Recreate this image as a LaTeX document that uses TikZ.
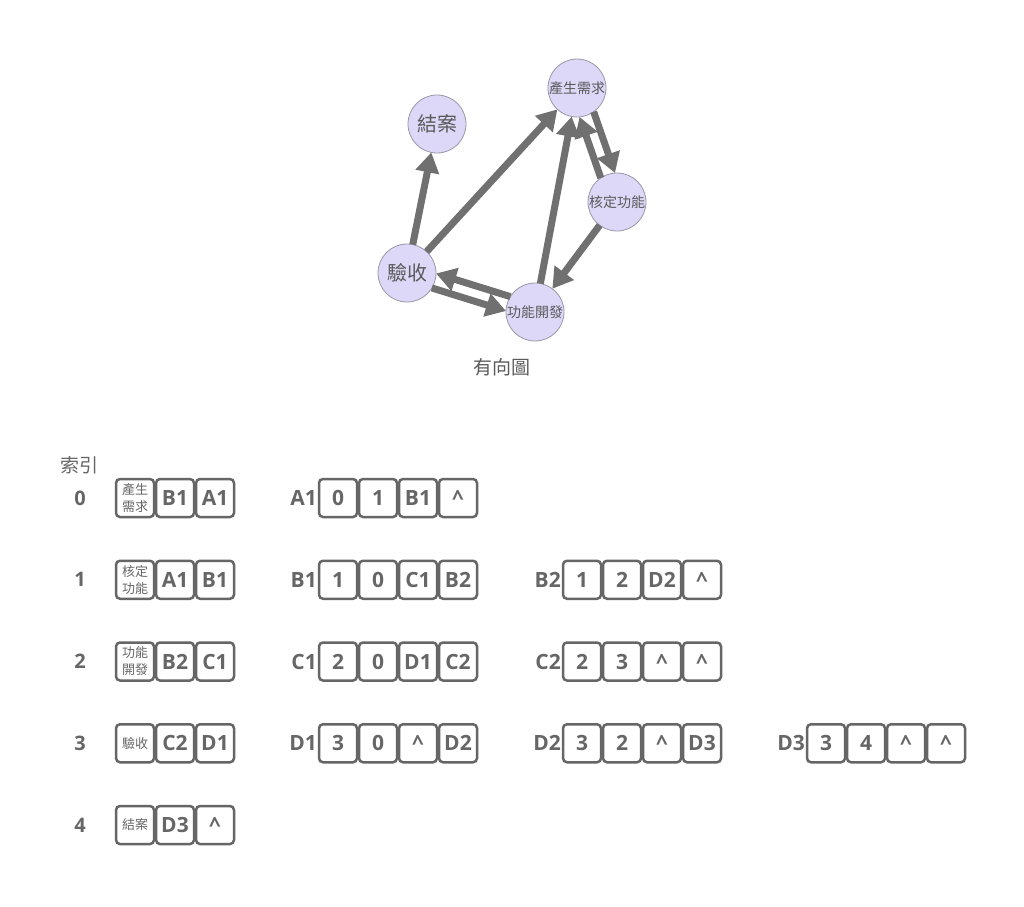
\documentclass[tikz,border=0pt]{standalone}
\usepackage{fontspec}
\setmainfont{Open Sans}
\newfontfamily\cjk{Noto Sans CJK TC}
\usetikzlibrary{arrows.meta}
\definecolor{txt}{HTML}{666666}
\definecolor{gtxt}{HTML}{5A5A5A}
\definecolor{edgec}{HTML}{707070}
\definecolor{vfill}{HTML}{DDD8F8}
\definecolor{vline}{HTML}{9A98A8}
\newcommand\cc{\textasciicircum}
\begin{document}
\begin{tikzpicture}[x=1pt,y=-1pt,
  vert/.style={circle, draw=vline, line width=0.8pt, fill=vfill, minimum size=58pt, inner sep=0pt, outer sep=0pt, text=gtxt, font=\cjk\fontsize{14}{14}\selectfont},
  bigv/.style={font=\cjk\fontsize{20}{20}\selectfont},
  arr/.style={draw=edgec, line width=7pt, -{Triangle[length=20pt,width=23pt]}},
  cell/.style={draw=txt, line width=2.5pt, rounded corners=4pt, minimum width=38pt, minimum height=38pt, inner sep=0pt, text=txt, font=\bfseries\fontsize{21}{21}\selectfont},
  vcell/.style={cell, align=center, font=\cjk\fontsize{13}{17}\selectfont},
  elab/.style={inner sep=0.5pt, text=txt, font=\bfseries\fontsize{21}{21}\selectfont},
  idx/.style={text=txt, font=\bfseries\fontsize{20}{20}\selectfont},
  captext/.style={text=gtxt, font=\cjk\fontsize{19}{19}\selectfont}
]
\fill[white] (0,0) rectangle (1024,906);
\useasboundingbox (0,0) rectangle (1024,906);

% graph
\node[vert] (n0) at (577,88) {產生需求};
\node[vert,bigv] (n4) at (437,124) {結案};
\node[vert] (n1) at (617,202) {核定功能};
\node[vert,bigv] (n3) at (407,273) {驗收};
\node[vert] (n2) at (535,312) {功能開發};

\draw[arr] (n3) -- (n4);
\draw[arr] (n3) -- (n0);
\draw[arr] (n2) -- (n0);
\draw[arr] (n1) -- (n2);
\draw[arr] (n0.-55.7) -- (n1.94.3);
\draw[arr] (n1.124.3) -- (n0.-85.7);
\draw[arr] (n3.-31.9) -- (n2.178.1);
\draw[arr] (n2.148.1) -- (n3.-1.9);

\node[captext] (title) at (502,367) {有向圖};

% table
\node[captext, text=txt] (index) at (79,465) {索引};

\node[idx] (r0) at (80,498) {0};
\node[vcell] (v0) at (135,498) {產生\\需求};
\node[cell] (v0b) at (175,498) {B1};
\node[cell] (v0c) at (215,498) {A1};

\node[idx] (r1) at (80,579.75) {1};
\node[vcell] (v1) at (135,579.75) {核定\\功能};
\node[cell] (v1b) at (175,579.75) {A1};
\node[cell] (v1c) at (215,579.75) {B1};

\node[idx] (r2) at (80,661.5) {2};
\node[vcell] (v2) at (135,661.5) {功能\\開發};
\node[cell] (v2b) at (175,661.5) {B2};
\node[cell] (v2c) at (215,661.5) {C1};

\node[idx] (r3) at (80,743.25) {3};
\node[vcell] (v3) at (135,743.25) {驗收};
\node[cell] (v3b) at (175,743.25) {C2};
\node[cell] (v3c) at (215,743.25) {D1};

\node[idx] (r4) at (80,825) {4};
\node[vcell] (v4) at (135,825) {結案};
\node[cell] (v4b) at (175,825) {D3};
\node[cell] (v4c) at (215,825) {\cc};

\foreach \lab/\x/\y/\a/\b/\c/\d in {
 A1/318/498/0/1/B1/\cc,
 B1/318/579.75/1/0/C1/B2,
 B2/562/579.75/1/2/D2/\cc,
 C1/318/661.5/2/0/D1/C2,
 C2/562/661.5/2/3/\cc/\cc,
 D1/318/743.25/3/0/\cc/D2,
 D2/562/743.25/3/2/\cc/D3,
 D3/806/743.25/3/4/\cc/\cc}{
 \node[elab, anchor=east] (\lab) at (\x-0.5,\y) {\lab};
 \node[cell] (\lab-1) at (\x+20,\y) {\a};
 \node[cell] (\lab-2) at (\x+60,\y) {\b};
 \node[cell] (\lab-3) at (\x+100,\y) {\c};
 \node[cell] (\lab-4) at (\x+140,\y) {\d};
}
\end{tikzpicture}
\end{document}
